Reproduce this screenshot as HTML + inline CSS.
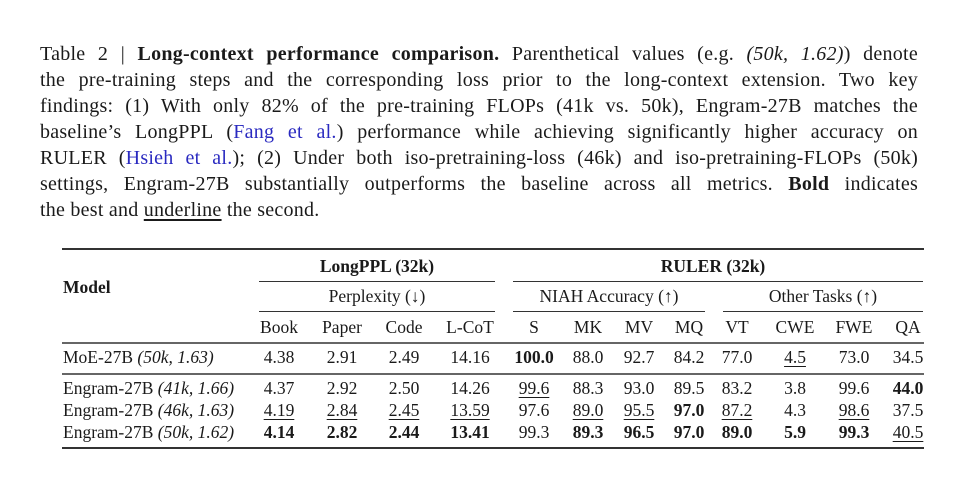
<!DOCTYPE html>
<html><head><meta charset="utf-8"><style>
body{margin:0;width:980px;height:478px;background:#fff;position:relative;overflow:hidden;font-family:"Liberation Serif",serif;color:#1a1a1a}
.l{position:absolute;left:40px;width:878px;font-size:20px;letter-spacing:0.25px;line-height:26px;white-space:nowrap;text-align:justify;text-align-last:justify}
.t{position:absolute;font-size:17.5px;line-height:20px;white-space:nowrap}
.c{position:absolute;width:100px;margin-left:-50px;text-align:center;font-size:17.5px;line-height:20px;white-space:nowrap}
.r{position:absolute;background:#333}
.u{text-decoration:underline;text-underline-offset:3px}
a{color:#2a2ac0;text-decoration:none}
</style></head><body>
<div class="l" style="top:41px">Table 2 | <b>Long-context performance comparison.</b> Parenthetical values (e.g. <i>(50k, 1.62)</i>) denote</div>
<div class="l" style="top:67px">the pre-training steps and the corresponding loss prior to the long-context extension. Two key</div>
<div class="l" style="top:93px">findings: (1) With only 82% of the pre-training FLOPs (41k vs. 50k), Engram-27B matches the</div>
<div class="l" style="top:119px">baseline’s LongPPL (<a>Fang et al.</a>) performance while achieving significantly higher accuracy on</div>
<div class="l" style="top:145px">RULER (<a>Hsieh et al.</a>); (2) Under both iso-pretraining-loss (46k) and iso-pretraining-FLOPs (50k)</div>
<div class="l" style="top:171px">settings, Engram-27B substantially outperforms the baseline across all metrics. <b>Bold</b> indicates</div>
<div class="l" style="top:197px;text-align-last:left">the best and <span class="u">underline</span> the second.</div>

<div class="r" style="left:62px;width:862px;top:248px;height:2px"></div>
<div class="r" style="left:259px;width:236px;top:281px;height:1px"></div>
<div class="r" style="left:513px;width:410px;top:281px;height:1px"></div>
<div class="r" style="left:259px;width:236px;top:311px;height:1px"></div>
<div class="r" style="left:513px;width:192px;top:311px;height:1px"></div>
<div class="r" style="left:723px;width:200px;top:311px;height:1px"></div>
<div class="r" style="left:62px;width:862px;top:342px;height:1.5px;background:#666"></div>
<div class="r" style="left:62px;width:862px;top:373px;height:1.5px;background:#666"></div>
<div class="r" style="left:62px;width:862px;top:447px;height:2px"></div>

<div class="t" style="left:63px;top:277px"><b>Model</b></div>
<div class="c" style="left:377px;top:256px;width:200px;margin-left:-100px"><b>LongPPL (32k)</b></div>
<div class="c" style="left:713px;top:256px;width:200px;margin-left:-100px"><b>RULER (32k)</b></div>
<div class="c" style="left:377px;top:286px;width:200px;margin-left:-100px">Perplexity (↓)</div>
<div class="c" style="left:609px;top:286px;width:200px;margin-left:-100px">NIAH Accuracy (↑)</div>
<div class="c" style="left:823px;top:286px;width:200px;margin-left:-100px">Other Tasks (↑)</div>

<div class="c" style="left:279px;top:317px">Book</div>
<div class="c" style="left:342px;top:317px">Paper</div>
<div class="c" style="left:404px;top:317px">Code</div>
<div class="c" style="left:470px;top:317px">L-CoT</div>
<div class="c" style="left:534px;top:317px">S</div>
<div class="c" style="left:588px;top:317px">MK</div>
<div class="c" style="left:639px;top:317px">MV</div>
<div class="c" style="left:689px;top:317px">MQ</div>
<div class="c" style="left:737px;top:317px">VT</div>
<div class="c" style="left:795px;top:317px">CWE</div>
<div class="c" style="left:854px;top:317px">FWE</div>
<div class="c" style="left:908px;top:317px">QA</div>

<div class="t" style="left:63px;top:347px">MoE-27B <i>(50k, 1.63)</i></div>
<div class="c" style="left:279px;top:347px">4.38</div>
<div class="c" style="left:342px;top:347px">2.91</div>
<div class="c" style="left:404px;top:347px">2.49</div>
<div class="c" style="left:470px;top:347px">14.16</div>
<div class="c" style="left:534px;top:347px"><b>100.0</b></div>
<div class="c" style="left:588px;top:347px">88.0</div>
<div class="c" style="left:639px;top:347px">92.7</div>
<div class="c" style="left:689px;top:347px">84.2</div>
<div class="c" style="left:737px;top:347px">77.0</div>
<div class="c" style="left:795px;top:347px"><span class="u">4.5</span></div>
<div class="c" style="left:854px;top:347px">73.0</div>
<div class="c" style="left:908px;top:347px">34.5</div>

<div class="t" style="left:63px;top:378px">Engram-27B <i>(41k, 1.66)</i></div>
<div class="c" style="left:279px;top:378px">4.37</div>
<div class="c" style="left:342px;top:378px">2.92</div>
<div class="c" style="left:404px;top:378px">2.50</div>
<div class="c" style="left:470px;top:378px">14.26</div>
<div class="c" style="left:534px;top:378px"><span class="u">99.6</span></div>
<div class="c" style="left:588px;top:378px">88.3</div>
<div class="c" style="left:639px;top:378px">93.0</div>
<div class="c" style="left:689px;top:378px">89.5</div>
<div class="c" style="left:737px;top:378px">83.2</div>
<div class="c" style="left:795px;top:378px">3.8</div>
<div class="c" style="left:854px;top:378px">99.6</div>
<div class="c" style="left:908px;top:378px"><b>44.0</b></div>

<div class="t" style="left:63px;top:400px">Engram-27B <i>(46k, 1.63)</i></div>
<div class="c" style="left:279px;top:400px"><span class="u">4.19</span></div>
<div class="c" style="left:342px;top:400px"><span class="u">2.84</span></div>
<div class="c" style="left:404px;top:400px"><span class="u">2.45</span></div>
<div class="c" style="left:470px;top:400px"><span class="u">13.59</span></div>
<div class="c" style="left:534px;top:400px">97.6</div>
<div class="c" style="left:588px;top:400px"><span class="u">89.0</span></div>
<div class="c" style="left:639px;top:400px"><span class="u">95.5</span></div>
<div class="c" style="left:689px;top:400px"><b>97.0</b></div>
<div class="c" style="left:737px;top:400px"><span class="u">87.2</span></div>
<div class="c" style="left:795px;top:400px">4.3</div>
<div class="c" style="left:854px;top:400px"><span class="u">98.6</span></div>
<div class="c" style="left:908px;top:400px">37.5</div>

<div class="t" style="left:63px;top:422px">Engram-27B <i>(50k, 1.62)</i></div>
<div class="c" style="left:279px;top:422px"><b>4.14</b></div>
<div class="c" style="left:342px;top:422px"><b>2.82</b></div>
<div class="c" style="left:404px;top:422px"><b>2.44</b></div>
<div class="c" style="left:470px;top:422px"><b>13.41</b></div>
<div class="c" style="left:534px;top:422px">99.3</div>
<div class="c" style="left:588px;top:422px"><b>89.3</b></div>
<div class="c" style="left:639px;top:422px"><b>96.5</b></div>
<div class="c" style="left:689px;top:422px"><b>97.0</b></div>
<div class="c" style="left:737px;top:422px"><b>89.0</b></div>
<div class="c" style="left:795px;top:422px"><b>5.9</b></div>
<div class="c" style="left:854px;top:422px"><b>99.3</b></div>
<div class="c" style="left:908px;top:422px"><span class="u">40.5</span></div>
</body></html>
